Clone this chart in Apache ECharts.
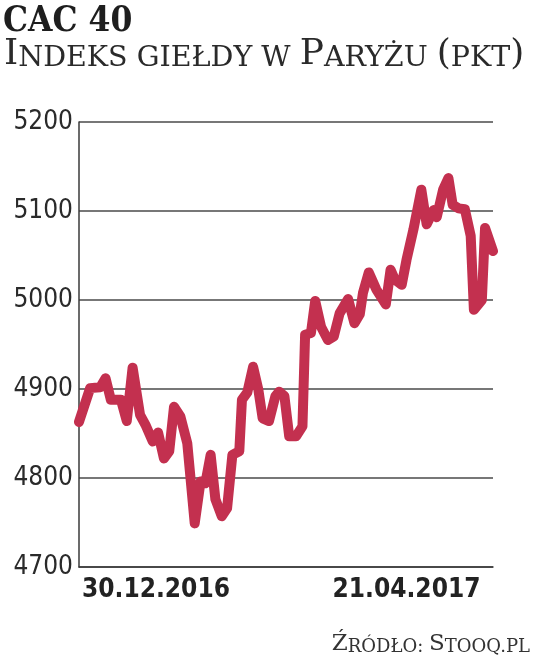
<!DOCTYPE html>
<html><head><meta charset="utf-8">
<script src="https://cdn.jsdelivr.net/npm/echarts@6/dist/echarts.min.js"></script>
<style>html,body{margin:0;padding:0;background:#fff}#c{width:536px;height:662px}</style>
</head><body><div id="c"></div>
<script>
// trading-day index (0 = 30.12.2016, 78 = 21.04.2017) and CAC 40 close (pkt)
const dayIndex = [0,2.1,4.0,5.0,6.0,7.9,9.0,10.1,11.5,12.5,13.9,14.9,16.0,17.0,17.9,19.1,20.4,21.8,22.9,23.8,24.8,25.7,26.9,27.9,28.9,30.2,30.7,31.7,32.8,33.8,34.6,35.8,37.0,37.7,38.7,39.6,40.9,42.1,42.6,43.7,44.5,45.6,46.9,48.0,49.1,50.7,51.9,52.9,53.5,54.6,56.0,57.8,58.7,59.5,60.8,61.7,63.0,64.5,65.5,66.8,67.4,68.6,69.6,70.4,71.5,72.7,73.8,74.4,75.9,76.5,78.0];
const closeValues = [4863,4901,4902,4912,4888,4888,4864,4924,4871,4860,4841,4851,4822,4830,4880,4869,4839,4749,4796,4794,4826,4776,4757,4766,4826,4830,4888,4896,4925,4899,4867,4864,4892,4897,4892,4847,4847,4858,4961,4963,4999,4970,4955,4959,4985,5001,4974,4984,5008,5031,5012,4995,5034,5023,5017,5045,5079,5124,5085,5101,5093,5124,5137,5107,5103,5102,5072,4989,5000,5081,5055];
const yMin = 4700, yMax = 5200, yStep = 100;
const xTickLabels = ['30.12.2016', '21.04.2017'];
const xTickDays = [14.5, 61.7];
const titleText = 'CAC 40';
const subtitleRich = '{b|I}{s|NDEKS GIEŁDY W }{b|P}{s|ARYŻU }{b|(}{s|PKT}{b|)}';
const sourceRich = '{b|Ź}{s|RÓDŁO: }{b|S}{s|TOOQ.PL}';

const chart = echarts.init(document.getElementById('c'));
const lineColor = '#c3304f';
chart.setOption({
  animation: false,
  backgroundColor: '#fff',
  grid: { left: 79, right: 43, top: 122, bottom: 95 },
  xAxis: {
    type: 'value', min: 0, max: 78,
    axisLine: { show: true, lineStyle: { color: '#3a3a3a', width: 1.5 } },
    axisTick: { show: false },
    splitLine: { show: false },
    axisLabel: {
      customValues: xTickDays,
      formatter: (v) => xTickLabels[xTickDays.indexOf(v)] || '',
      fontFamily: 'DejaVu Sans Condensed', fontWeight: 'bold', fontSize: 26,
      color: '#222', margin: 10
    }
  },
  yAxis: {
    type: 'value', min: yMin, max: yMax, interval: yStep,
    axisLine: { show: true, lineStyle: { color: '#3a3a3a', width: 1.5 } },
    axisTick: { show: false },
    splitLine: { show: true, lineStyle: { color: '#4a4a4a', width: 1.5 } },
    axisLabel: { formatter: (v) => String(v), fontFamily: 'DejaVu Sans Condensed', fontSize: 26, color: '#2a2a2a', margin: 6 }
  },
  series: [{
    type: 'line',
    data: dayIndex.map((d, i) => [d, closeValues[i]]),
    symbol: 'none',
    lineStyle: { color: lineColor, width: 10, join: 'round', cap: 'round' }
  }],
  graphic: [
    { type: 'text', left: 3, top: 4,
      style: { text: titleText, fontFamily: 'DejaVu Serif Condensed', fontWeight: 'bold', fontSize: 35, fill: '#1e1e1e' } },
    { type: 'text', left: 4, top: 37,
      style: { text: subtitleRich, fill: '#2a2a2a',
        rich: {
          b: { fontFamily: 'DejaVu Serif', fontSize: 36, fill: '#2a2a2a', verticalAlign: 'bottom' },
          s: { fontFamily: 'DejaVu Serif', fontSize: 28.5, fill: '#2a2a2a', verticalAlign: 'bottom' }
        } } },
    { type: 'text', right: 6, top: 633,
      style: { text: sourceRich, fill: '#333',
        rich: {
          b: { fontFamily: 'DejaVu Serif', fontSize: 23, fill: '#333', verticalAlign: 'bottom' },
          s: { fontFamily: 'DejaVu Serif', fontSize: 18, fill: '#333', verticalAlign: 'bottom' }
        } } }
  ]
});
</script></body></html>
